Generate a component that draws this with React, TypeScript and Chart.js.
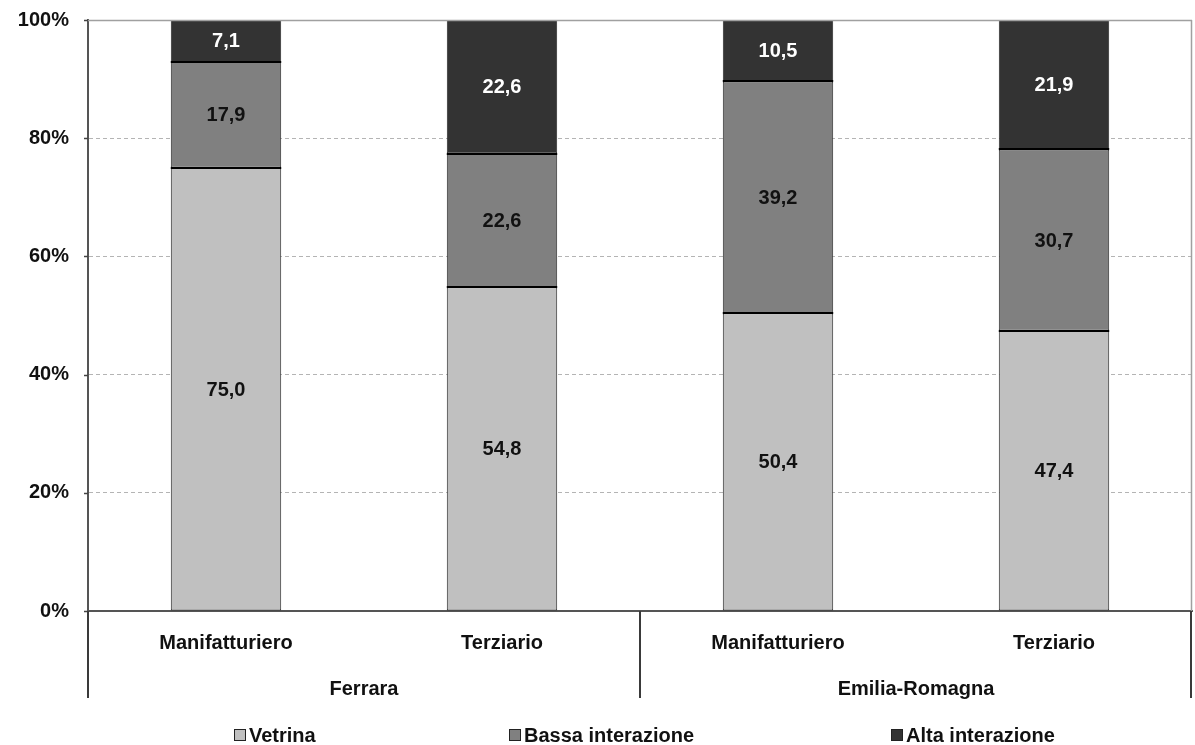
import React, { useEffect, useRef } from "react";
import { Chart, registerables } from "chart.js";

Chart.register(...registerables);

// Sectors (one bar each) and the regions they are grouped under
const categories = ["Manifatturiero", "Terziario", "Manifatturiero", "Terziario"];
const regions = ["Ferrara", "Emilia-Romagna"];

// Share of firms (%) by website interaction level
const vetrina = [75.0, 54.8, 50.4, 47.4];
const bassaInterazione = [17.9, 22.6, 39.2, 30.7];
const altaInterazione = [7.1, 22.6, 10.5, 21.9];

const seriesNames = ["Vetrina", "Bassa interazione", "Alta interazione"];
const seriesColors = ["#c0c0c0", "#808080", "#333333"];
const valueColors = ["#111111", "#111111", "#ffffff"];

const FONT = '"Liberation Sans", Arial, Helvetica, sans-serif';
const AXIS_W = 88;
const XAXIS_H = 88;
const LEGEND_BOX_X = [234, 509, 891];

const fmt = (v: number) => v.toFixed(1).replace(".", ",");

const decorations = {
  id: "decorations",
  afterDatasetsDraw(chart: any) {
    const ctx = chart.ctx;
    const top = chart.chartArea.top;
    ctx.save();

    // heavy dividers between stacked segments
    ctx.strokeStyle = "#000";
    ctx.lineWidth = 2;
    ctx.beginPath();
    chart.data.datasets.forEach((_ds: any, i: number) => {
      if (i === chart.data.datasets.length - 1) return;
      chart.getDatasetMeta(i).data.forEach((el: any) => {
        if (el.y <= top + 1) return;
        const y = Math.round(el.y);
        ctx.moveTo(el.x - el.width / 2, y);
        ctx.lineTo(el.x + el.width / 2, y);
      });
    });
    ctx.stroke();

    // value labels
    ctx.font = `bold 20px ${FONT}`;
    ctx.textAlign = "center";
    ctx.textBaseline = "middle";
    chart.data.datasets.forEach((ds: any, i: number) => {
      const meta = chart.getDatasetMeta(i);
      meta.data.forEach((el: any, j: number) => {
        const v = ds.data[j];
        const yTop = Math.max(el.y, top);
        ctx.fillStyle = valueColors[i];
        ctx.fillText(fmt(v), el.x, (yTop + el.base) / 2 + 1);
      });
    });
    ctx.restore();
  },
  afterDraw(chart: any) {
    const ctx = chart.ctx;
    const { left, right, top, bottom } = chart.chartArea;
    const xs = chart.scales.x;
    const ys = chart.scales.y;
    ctx.save();

    // plot frame (top and right)
    ctx.strokeStyle = "#a0a0a0";
    ctx.lineWidth = 1.5;
    ctx.beginPath();
    ctx.moveTo(left, top + 0.5);
    ctx.lineTo(right, top + 0.5);
    ctx.moveTo(right - 0.5, top);
    ctx.lineTo(right - 0.5, bottom);
    ctx.stroke();

    // y tick marks
    ctx.strokeStyle = "#444";
    ctx.lineWidth = 1.5;
    ctx.beginPath();
    ys.ticks.forEach((t: any) => {
      const y = Math.round(ys.getPixelForValue(t.value)) + 0.5;
      ctx.moveTo(left - 4, y);
      ctx.lineTo(left, y);
    });
    ctx.stroke();

    // separators of the category band
    const mid = (xs.getPixelForValue(1) + xs.getPixelForValue(2)) / 2;
    ctx.strokeStyle = "#3a3a3a";
    ctx.lineWidth = 2;
    ctx.beginPath();
    [left, mid, right - 1].forEach((x) => {
      ctx.moveTo(x, bottom);
      ctx.lineTo(x, bottom + XAXIS_H - 1);
    });
    ctx.stroke();

    // region labels
    ctx.font = `bold 20px ${FONT}`;
    ctx.fillStyle = "#111";
    ctx.textAlign = "center";
    ctx.textBaseline = "middle";
    regions.forEach((r, i) => {
      const cx = (xs.getPixelForValue(2 * i) + xs.getPixelForValue(2 * i + 1)) / 2;
      ctx.fillText(r, cx, 689);
    });

    // legend
    ctx.textAlign = "left";
    seriesNames.forEach((name, i) => {
      const bx = LEGEND_BOX_X[i];
      const cy = 735;
      ctx.fillStyle = seriesColors[i];
      ctx.fillRect(bx, cy - 6, 12, 12);
      ctx.strokeStyle = "#222";
      ctx.lineWidth = 1;
      ctx.strokeRect(bx + 0.5, cy - 5.5, 11, 11);
      ctx.fillStyle = "#111";
      ctx.fillText(name, bx + 15, cy + 1);
    });
    ctx.restore();
  },
};

export default function App() {
  const canvasRef = useRef<HTMLCanvasElement>(null);

  useEffect(() => {
    if (!canvasRef.current) return;
    const seriesData = [vetrina, bassaInterazione, altaInterazione];
    const chart = new Chart(canvasRef.current, {
      type: "bar",
      data: {
        labels: categories,
        datasets: seriesNames.map((name, i) => ({
          label: name,
          data: seriesData[i],
          backgroundColor: seriesColors[i],
          borderColor: "#2a2a2a",
          borderWidth: 1,
          borderSkipped: false,
          categoryPercentage: 1,
          barPercentage: 0.4,
        })),
      },
      options: {
        animation: false,
        responsive: true,
        maintainAspectRatio: false,
        layout: { padding: { left: 0, right: 3, top: 20, bottom: 745 - 611 - XAXIS_H } },
        plugins: {
          legend: { display: false },
          tooltip: { enabled: false },
        },
        scales: {
          x: {
            stacked: true,
            grid: { display: false },
            border: { display: true, color: "#555", width: 2 },
            ticks: {
              color: "#111",
              font: { family: FONT, size: 20, weight: "bold" },
              padding: 12,
              maxRotation: 0,
            },
            afterFit: (s: any) => {
              s.height = XAXIS_H;
              s.paddingLeft = 0;
              s.paddingRight = 0;
            },
          },
          y: {
            stacked: true,
            min: 0,
            max: 100,
            ticks: {
              stepSize: 20,
              color: "#111",
              font: { family: FONT, size: 20, weight: "bold" },
              padding: 19,
              callback: (v: any) => `${v}%`,
            },
            grid: {
              drawTicks: false,
              color: (c: any) =>
                c.tick && (c.tick.value === 0 || c.tick.value === 100) ? "rgba(0,0,0,0)" : "#b4b4b4",
              lineWidth: 1,
            },
            border: { display: true, color: "#555", width: 2, dash: [4, 3] },
            afterFit: (s: any) => {
              s.width = AXIS_W;
              s.paddingTop = 0;
              s.paddingBottom = 0;
            },
          },
        },
      },
      plugins: [decorations],
    });
    return () => chart.destroy();
  }, []);

  return (
    <div style={{ position: "absolute", left: 0, top: 0, width: 1195, height: 745, background: "#fff" }}>
      <canvas ref={canvasRef} />
    </div>
  );
}
